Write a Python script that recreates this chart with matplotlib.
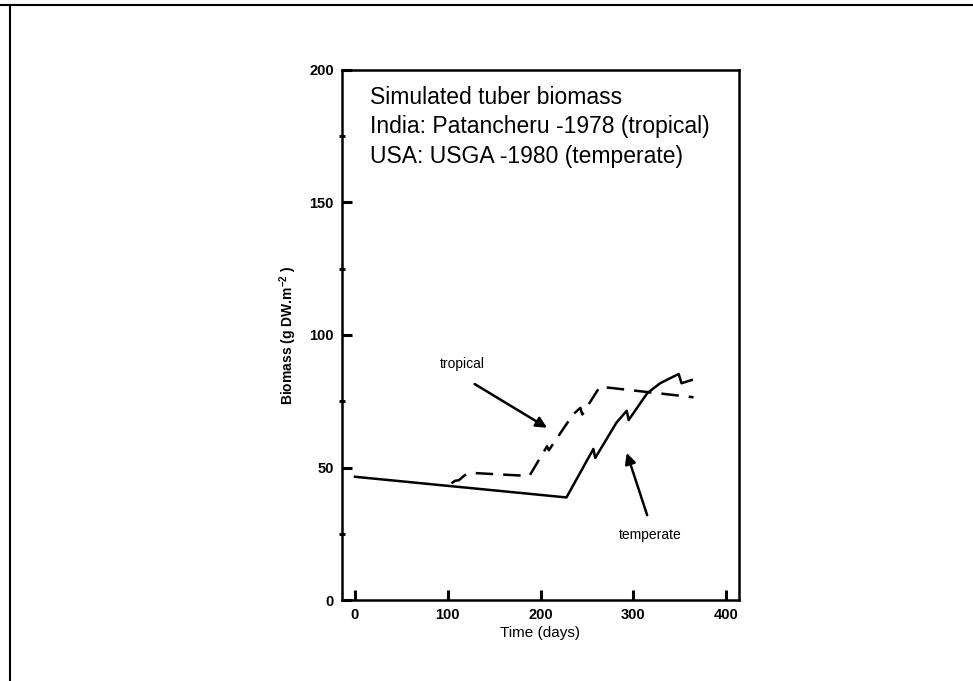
import matplotlib

matplotlib.use("Agg")

import matplotlib.pyplot as plt
from matplotlib.lines import Line2D

plt.rcParams["font.family"] = ["Liberation Sans", "DejaVu Sans"]
plt.rcParams["mathtext.fontset"] = "custom"
plt.rcParams["mathtext.rm"] = "Liberation Sans"
plt.rcParams["mathtext.bf"] = "Liberation Sans:bold"

# temperate (USA: USGA -1980), solid line
temperate_days = [0, 228, 257, 259, 282, 293, 295, 315, 329, 349, 352, 363]
temperate_biomass = [46.5, 38.7, 57.0, 53.6, 67.0, 71.4, 67.9, 78.0, 81.8, 85.3, 81.8, 83.0]

# tropical (India: Patancheru -1978), dashed line
tropical_days = [104, 108, 112, 118, 124, 150, 188, 207, 209, 235, 243, 245, 264, 365]
tropical_biomass = [44.0, 45.0, 45.2, 47.0, 48.0, 47.5, 46.8, 58.0, 56.5, 70.0, 72.5, 70.0, 80.5, 76.5]

x_ticks = [0, 100, 200, 300, 400]
y_ticks = [0, 50, 100, 150, 200]
y_minor = [25, 75, 125, 175]

title_lines = [
    "Simulated tuber biomass",
    "India: Patancheru -1978 (tropical)",
    "USA: USGA -1980 (temperate)",
]

# arrow start / end points (days, biomass)
tropical_arrow = [(129, 81.5), (207, 65)]
temperate_arrow = [(315, 32), (293, 55.5)]

fig = plt.figure(figsize=(9.73, 6.81), dpi=100)
ax = fig.add_axes([342 / 973, 1 - 600 / 681, 397 / 973, 530 / 681])

ax.plot(temperate_days, temperate_biomass, color="black", linewidth=1.8)
ax.plot(tropical_days, tropical_biomass, color="black", linewidth=1.8,
        linestyle=(0, (7, 4)))

ax.set_xlim(-14, 414)
ax.set_ylim(0, 200)
ax.set_xticks(x_ticks)
ax.set_yticks(y_ticks)
ax.set_yticks(y_minor, minor=True)
ax.tick_params(axis="both", which="major", direction="in", length=7, width=2.2,
               labelsize=10.5, pad=6)
ax.tick_params(axis="y", which="minor", direction="inout", length=5, width=2)
for label in ax.get_xticklabels() + ax.get_yticklabels():
    label.set_fontweight("bold")
for spine in ax.spines.values():
    spine.set_linewidth(1.8)

ax.set_xlabel("Time (days)", fontsize=11, labelpad=3)
ax.set_ylabel(r"Biomass (g DW.m$^{\mathbf{-2}}$ )", fontsize=10, fontweight="bold",
              labelpad=7)

for i, line in enumerate(title_lines):
    fig.text(370 / 973, 1 - (97 + 30 * i) / 681, line, fontsize=16.5,
             va="center", ha="left")

ax.text(92, 89, "tropical", fontsize=10, va="center", ha="left")
ax.text(284, 24.5, "temperate", fontsize=10, va="center", ha="left")

for start, end in [tropical_arrow, temperate_arrow]:
    ax.annotate("", xy=end, xytext=start,
                arrowprops=dict(arrowstyle="-|>", color="black", lw=1.8,
                                mutation_scale=16, shrinkA=0, shrinkB=0))

# frame lines of the scanned page
fig.add_artist(Line2D([0, 1], [1 - 5 / 681, 1 - 5 / 681], color="black", lw=1.5))
fig.add_artist(Line2D([10 / 973, 10 / 973], [0, 1 - 5 / 681], color="black", lw=1.5))

fig.savefig("out.png", dpi=100)
